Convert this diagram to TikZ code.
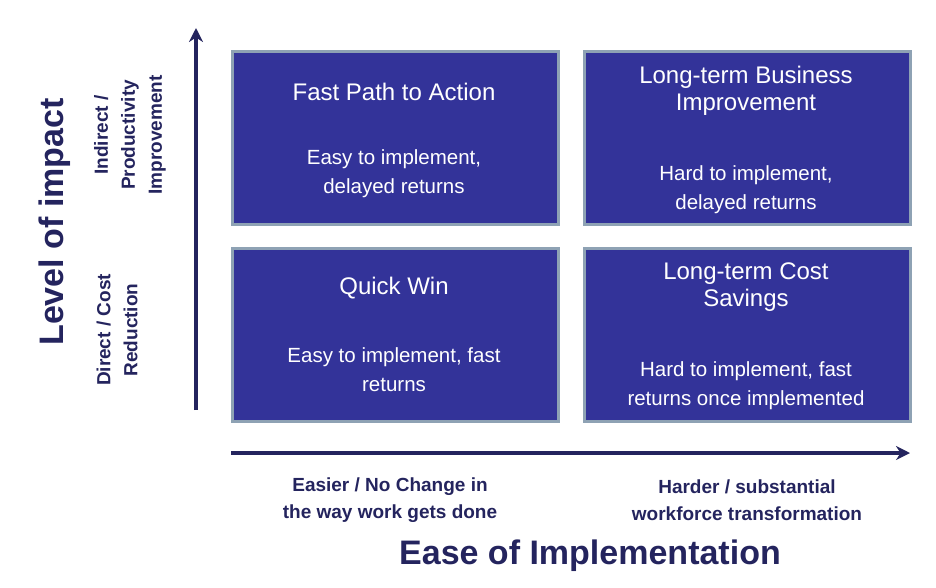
\documentclass[tikz,border=0pt]{standalone}
\usepackage{fontspec}
\setmainfont{Liberation Sans}
\usetikzlibrary{arrows.meta,positioning}
\definecolor{boxblue}{HTML}{333399}
\definecolor{boxedge}{HTML}{8EA2B4}
\definecolor{navy}{HTML}{24245E}

\begin{document}
\begin{tikzpicture}[x=1pt, y=-1pt, >={Stealth[length=14pt,width=14pt]}]

    \tikzstyle{quad} = [rectangle, fill=boxblue, draw=boxedge, line width=3pt, minimum width=326pt, minimum height=173pt, anchor=north west]
    \tikzstyle{ttl} = [text=white, font=\fontsize{24}{27}\selectfont, align=center]
    \tikzstyle{txt} = [text=white, font=\fontsize{20.5}{29}\selectfont, align=center]
    \tikzstyle{axlbl} = [text=navy, font=\bfseries\fontsize{19}{27}\selectfont, align=center]

    \useasboundingbox (0,0) rectangle (936,587);

    \node (fast)  [quad] at (231,50)  {};
    \node (long)  [quad] at (583,50)  {};
    \node (quick) [quad] at (231,247) {};
    \node (cost)  [quad] at (583,247) {};

    \node [ttl] at (394,92)  {Fast Path to Action};
    \node [txt] at (394,174) {Easy to implement,\\delayed returns};
    \node [ttl] at (746,91)  {Long-term Business\\Improvement};
    \node [txt] at (746,190) {Hard to implement,\\delayed returns};
    \node [ttl] at (394,288) {Quick Win};
    \node [txt] at (394,370) {Easy to implement, fast\\returns};
    \node [ttl] at (746,287) {Long-term Cost\\Savings};
    \node [txt] at (746,386) {Hard to implement, fast\\returns once implemented};

    \coordinate (ybot) at (196,410);
    \coordinate (ytop) at (196,28);
    \coordinate (xl) at (231,453);
    \coordinate (xr) at (910,453);
    \draw[->, navy, line width=4pt] (ybot) -- (ytop);
    \draw[->, navy, line width=4pt] (xl) -- (xr);

    \node [axlbl, rotate=90] at (130,135) {Indirect /\\Productivity\\Improvement};
    \node [axlbl, rotate=90] at (117,330) {Direct / Cost\\Reduction};
    \node [text=navy, font=\bfseries\fontsize{34}{40}\selectfont, rotate=90] at (55,222) {Level of impact};

    \node [axlbl] at (390,500) {Easier / No Change in\\the way work gets done};
    \node [axlbl] at (747,500) {Harder / substantial\\workforce transformation};
    \node [text=navy, font=\bfseries\fontsize{34}{40}\selectfont] at (590,556) {Ease of Implementation};
\end{tikzpicture}
\end{document}
